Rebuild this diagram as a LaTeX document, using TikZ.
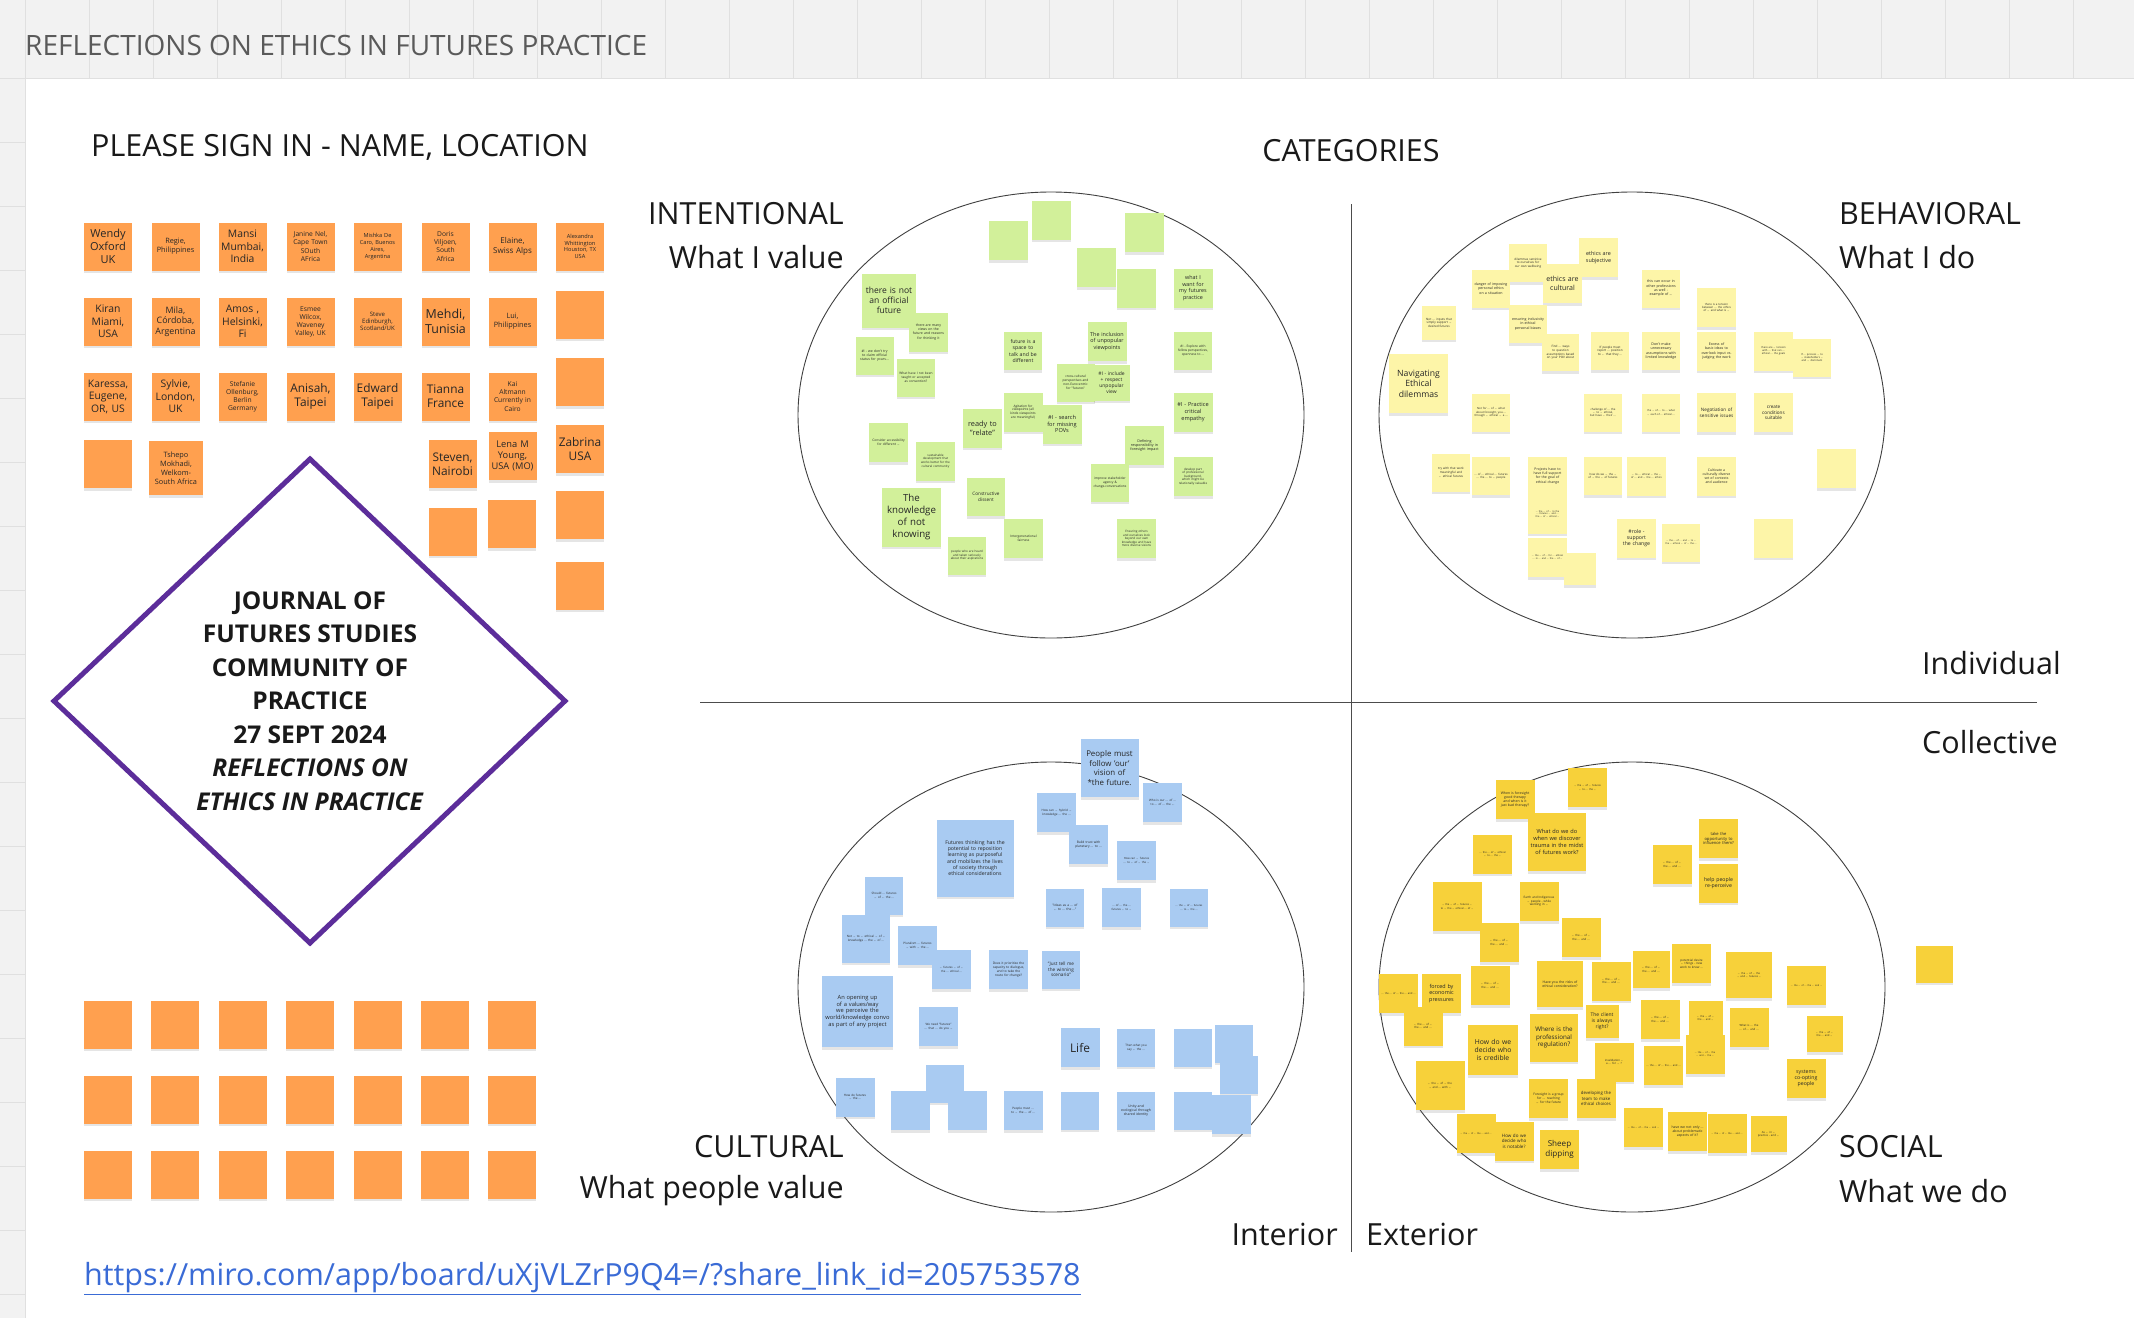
\documentclass[tikz,border=0pt]{standalone}
\usepackage{fontspec}
\setmainfont{Open Sans}
\usetikzlibrary{shadows}
\hyphenpenalty=10000\relax
\exhyphenpenalty=10000\relax
\definecolor{orng}{HTML}{FFA04F}
\definecolor{lgreen}{HTML}{D2F09A}
\definecolor{lyel}{HTML}{FDF5A8}
\definecolor{dyel}{HTML}{F7D13A}
\definecolor{lblue}{HTML}{A9CBF2}
\definecolor{purp}{HTML}{5C2D9A}
\definecolor{bargray}{HTML}{F2F2F2}
\definecolor{gridln}{HTML}{E0E0E0}
\definecolor{ttlgray}{HTML}{5A5A5A}
\definecolor{linkblue}{HTML}{3A6BD6}
\tikzset{
  snbox/.style={inner sep=1.5pt, align=center, text=black!85, drop shadow={shadow xshift=0pt, shadow yshift=-2.5pt, opacity=0.2}},
  lbl/.style={font=\fontsize{30.5}{36}\selectfont, text=black!90, inner sep=0pt},
  circ/.style={draw=black!75, line width=0.9pt},
}
% color, size, fontsize, name, x, y, text
\newcommand\sn[7]{\node[snbox, fill=#1, minimum width=#2pt, minimum height=#2pt, text width=\fpeval{#2-4}pt, font=\fontsize{\fpeval{#3*1.08}}{\fpeval{#3*1.3}}\selectfont] (#4) at (#5,#6) {#7};}
\begin{document}
\hyphenpenalty=10000\relax
\exhyphenpenalty=10000\relax
\begin{tikzpicture}[x=1pt,y=-1pt]
\useasboundingbox (0,0) rectangle (2134,1318);
\fill[white] (0,0) rectangle (2134,1318);
\fill[bargray] (0,0) rectangle (2134,78);
\fill[bargray] (0,78) rectangle (25,1318);
\foreach \k in {0,...,33} {\draw[gridln] ({25+64*\k},0) -- ({25+64*\k},78);}
\foreach \k in {0,...,19} {\draw[gridln] (0,{78+64*\k}) -- (25,{78+64*\k});}
\draw[gridln] (25,78) -- (2134,78);
\draw[gridln] (25,78) -- (25,1318);

\node[anchor=west, font=\fontsize{28}{32}\selectfont, text=ttlgray, inner sep=0pt] (title) at (25,45) {REFLECTIONS ON ETHICS IN FUTURES PRACTICE};
\node[lbl, anchor=west] (signin) at (91,147) {PLEASE SIGN IN - NAME, LOCATION};
\node[lbl] (cat) at (1351,151) {CATEGORIES};
\node[lbl, anchor=east] (intent) at (844,214) {INTENTIONAL};
\node[lbl, anchor=east] (intentv) at (844,257) {What I value};
\node[lbl, anchor=west] (behav) at (1839,214) {BEHAVIORAL};
\node[lbl, anchor=west] (behavv) at (1839,257) {What I do};
\node[lbl, anchor=east] (indiv) at (2061,663) {Individual};
\node[lbl, anchor=east] (coll) at (2058,742) {Collective};
\node[lbl, anchor=east] (cult) at (844,1147) {CULTURAL};
\node[lbl, anchor=east] (cultv) at (844,1191) {What people value};
\node[lbl, anchor=west] (soc) at (1839,1147) {SOCIAL};
\node[lbl, anchor=west] (socv) at (1839,1191) {What we do};
\node[lbl, anchor=east] (inter) at (1338,1234) {Interior};
\node[lbl, anchor=west] (exter) at (1366,1234) {Exterior};

\coordinate (vt) at (1351,204); \coordinate (vb) at (1351,1252);
\coordinate (hl) at (700,702); \coordinate (hr) at (2037,702);
\draw[black!70, line width=1pt] (vt) -- (vb);
\draw[black!70, line width=1pt] (hl) -- (hr);

\draw[circ] (1051,415) ellipse [x radius=253, y radius=223];
\draw[circ] (1632,415) ellipse [x radius=253, y radius=223];
\draw[circ] (1051,987) ellipse [x radius=253, y radius=225];
\draw[circ] (1632,987) ellipse [x radius=253, y radius=225];

% diamond
\draw[purp, line width=5pt, line join=miter] (310,459) -- (565,701) -- (310,943) -- (54,701) -- cycle;
\node[font=\bfseries\fontsize{24.5}{33.5}\selectfont, align=center, text=black!90] (jfs) at (310,701) {JOURNAL OF\\FUTURES STUDIES\\COMMUNITY OF\\PRACTICE\\27 SEPT 2024\\\textit{REFLECTIONS ON}\\\textit{ETHICS IN PRACTICE}};

\node[anchor=west, font=\fontsize{30.5}{34}\selectfont, text=linkblue, inner sep=0pt] (link) at (84,1279) {\underline{https://miro.com/app/board/uXjVLZrP9Q4=/?share\_link\_id=205753578}};

% orange sign-in notes
\sn{orng}{48}{10.2}{o1}{108}{246.5}{Wendy\\Oxford\\UK}
\sn{orng}{48}{6.8}{o2}{175.5}{246.5}{Regie,\\Philippines}
\sn{orng}{48}{9.6}{o3}{242.5}{246.5}{Mansi\\Mumbai,\\India}
\sn{orng}{48}{6.2}{o4}{310.5}{246.5}{Janine Nel,\\Cape Town\\SOuth\\AFrica}
\sn{orng}{48}{5.2}{o5}{377.5}{246.5}{Mishka De\\Caro, Buenos\\Aires,\\Argentina}
\sn{orng}{48}{6.2}{o6}{445.5}{246.5}{Doris\\Viljoen,\\South\\Africa}
\sn{orng}{48}{7.4}{o7}{512.5}{246.5}{Elaine,\\Swiss Alps}
\sn{orng}{48}{5.2}{o8}{580}{246.5}{Alexandra\\Whittington\\Houston, TX\\USA}
\sn{orng}{48}{9.6}{o9}{108}{321.5}{Kiran\\Miami,\\USA}
\sn{orng}{48}{8.2}{o10}{175.5}{321.5}{Mila,\\Córdoba,\\Argentina}
\sn{orng}{48}{9.6}{o11}{242.5}{321.5}{Amos ,\\Helsinki,\\Fi}
\sn{orng}{48}{6.2}{o12}{310.5}{321.5}{Esmee\\Wilcox,\\Waveney\\Valley, UK}
\sn{orng}{48}{5.6}{o13}{377.5}{321.5}{Steve\\Edinburgh,\\Scotland/UK}
\sn{orng}{48}{11.5}{o14}{445.5}{321.5}{Mehdi,\\Tunisia}
\sn{orng}{48}{6.8}{o15}{512.5}{321.5}{Lui,\\Philippines}
\sn{orng}{48}{5}{o16}{580}{314.5}{}
\sn{orng}{48}{9.6}{o17}{108}{396.5}{Karessa,\\Eugene,\\OR, US}
\sn{orng}{48}{9.6}{o18}{175.5}{396.5}{Sylvie,\\London,\\UK}
\sn{orng}{48}{6.2}{o19}{242.5}{396.5}{Stefanie\\Ollenburg,\\Berlin\\Germany}
\sn{orng}{48}{11}{o20}{310.5}{396.5}{Anisah,\\Taipei}
\sn{orng}{48}{11}{o21}{377.5}{396.5}{Edward\\Taipei}
\sn{orng}{48}{11}{o22}{445.5}{396.5}{Tianna\\France}
\sn{orng}{48}{6.2}{o23}{512.5}{396.5}{Kai\\Altmann\\Currently in\\Cairo}
\sn{orng}{48}{5}{o24}{580}{382}{}
\sn{orng}{48}{5}{o25}{108}{464}{}
\sn{orng}{54}{6.8}{o26}{176}{468}{Tshepo\\Mokhadi,\\Welkom-\\South Africa}
\sn{orng}{48}{11}{o27}{452.5}{464}{Steven,\\Nairobi}
\sn{orng}{48}{8.6}{o28}{512.5}{456}{Lena M\\Young,\\USA (MO)}
\sn{orng}{48}{11}{o29}{580}{449}{Zabrina\\USA}
\sn{orng}{48}{5}{o30}{452.5}{531.5}{}
\sn{orng}{48}{5}{o31}{511.5}{524}{}
\sn{orng}{48}{5}{o32}{580}{515}{}
\sn{orng}{48}{5}{o33}{580}{585.5}{}
\foreach \c [count=\i] in {108,175,243,310,378,445,512} {
  \foreach \r [count=\j] in {1024.5,1099.5,1174.5} {
    \node[snbox, fill=orng, minimum width=48pt, minimum height=48pt] (ob\i\j) at (\c,\r) {};
  }
}

% INTENTIONAL (green)
\sn{lgreen}{39}{4}{g1}{1008.5}{240.5}{}
\sn{lgreen}{39}{4}{g2}{1051.5}{220}{}
\sn{lgreen}{39}{4}{g3}{1096}{267.5}{}
\sn{lgreen}{39}{4}{g4}{1144.5}{232.5}{}
\sn{lgreen}{39}{4}{g5}{1136.5}{288}{}
\sn{lgreen}{39}{5}{g6}{1193}{288}{what I want for my futures practice}
\sn{lgreen}{54}{7.9}{g7}{889}{300.5}{there is not an official future}
\sn{lgreen}{39}{3.2}{g8}{928.5}{332}{there are many views on the future and reasons for thinking it}
\sn{lgreen}{38}{3.2}{g9}{874.5}{355.5}{\#I - we don't try to claim official status for yours...}
\sn{lgreen}{38}{3}{g10}{916}{377.5}{What have I not been taught or accepted as convention?}
\sn{lgreen}{38}{4.8}{g11}{1023}{351}{future is a space to talk and be different}
\sn{lgreen}{39}{5}{g12}{1107}{341.5}{The inclusion of unpopular viewpoints}
\sn{lgreen}{38}{3}{g13}{1193}{351}{\#I - Explore with fellow perspectives, openness to ...}
\sn{lgreen}{38}{3}{g14}{1075.5}{382.5}{cross-cultural perspectives and non-Eurocentric for "futures"}
\sn{lgreen}{36}{4.6}{g15}{1111.5}{382.5}{\#I - include + respect unpopular view}
\sn{lgreen}{39}{3}{g16}{1023}{412}{Agitation for viewpoints (all kinds viewpoints are meaningful)}
\sn{lgreen}{39}{5.2}{g17}{1193}{412}{\#I - Practice critical empathy}
\sn{lgreen}{39}{6.8}{g18}{982.5}{428}{ready to "relate"}
\sn{lgreen}{39}{5.2}{g19}{1062}{424}{\#I - search for missing POVs}
\sn{lgreen}{39}{3}{g20}{888.5}{442.5}{Consider accessibility for different ...}
\sn{lgreen}{39}{3.4}{g21}{1144.5}{445.5}{Defining responsibility in foresight impact}
\sn{lgreen}{39}{2.8}{g22}{935.5}{461}{sustainable development that works better for the cultural community}
\sn{lgreen}{39}{2.8}{g23}{1193}{476.5}{develop part of professional background, which might be relationally valuable}
\sn{lgreen}{38}{3}{g24}{1110}{482.5}{improve stakeholder agency \& change-conversations}
\sn{lgreen}{59}{9}{g25}{911.5}{517}{The knowledge of not knowing}
\sn{lgreen}{38}{4.3}{g26}{986}{497}{Constructive dissent}
\sn{lgreen}{39}{3}{g27}{1023.5}{538.5}{Intergenerational fairness}
\sn{lgreen}{38}{2.8}{g28}{967}{555.5}{people who are heard and taken seriously about their aspirations}
\sn{lgreen}{39}{2.8}{g29}{1136.5}{538.5}{Ensuring others and ourselves look beyond our own knowledge and have more diverse visions}

% BEHAVIORAL (light yellow)
\sn{lyel}{38}{2.8}{y1}{1528}{263}{dilemmas sensitive to ourselves for our own wellbeing}
\sn{lyel}{39}{5}{y2}{1598.5}{257.5}{ethics are subjective}
\sn{lyel}{38}{3.3}{y3}{1491}{288.5}{danger of imposing personal ethics on a situation}
\sn{lyel}{39}{6.5}{y4}{1562.5}{283.5}{ethics are cultural}
\sn{lyel}{38}{3.3}{y5}{1661}{288.5}{this can occur in other professions as well - example of ...}
\sn{lyel}{39}{2.6}{y6}{1716.5}{307.5}{there is a tension between ... the ethics of ... and what is ...}
\sn{lyel}{34}{2.8}{y7}{1439}{322.5}{Not ... inputs that simply support ... desired futures}
\sn{lyel}{38}{3.3}{y8}{1528}{324}{ensuring inclusivity in ethical personal biases}
\sn{lyel}{37}{2.8}{y9}{1560.5}{352.5}{Find ... ways to question assumptions based on your POV about}
\sn{lyel}{38}{2.8}{y10}{1610}{351}{If people must report ... position to ... that they ...}
\sn{lyel}{38}{3.3}{y11}{1661}{351}{Don't make unnecessary assumptions with limited knowledge}
\sn{lyel}{39}{3.3}{y12}{1716.5}{351}{Excess of basic ideas to overlook input vs. judging the work}
\sn{lyel}{39}{2.4}{y13}{1773.5}{351}{there are ... tension with ... that can ... ethical ... the goals}
\sn{lyel}{38}{2.4}{y14}{1812}{357.5}{If ... process ... to ... stakeholders ... and ... dominant}
\sn{lyel}{59}{8}{y15}{1418.5}{383.5}{Navigating Ethical dilemmas}
\sn{lyel}{38}{2.6}{y16}{1491}{412.5}{Not for ... of ... what about foresight, you ... through ... ethical ... a ...}
\sn{lyel}{38}{2.6}{y17}{1603}{412.5}{challenge of ... the ... to ... ethical, but have ... their ...}
\sn{lyel}{38}{2.4}{y18}{1661}{412.5}{the ... of ... to ... what ... each of ... ethical ...}
\sn{lyel}{39}{4.3}{y19}{1716.5}{412.5}{Negotiation of sensitive issues}
\sn{lyel}{39}{4.3}{y20}{1773.5}{412.5}{create conditions suitable}
\sn{lyel}{38}{2.8}{y21}{1451}{472.5}{try with that work meaningful and ... ethical futures}
\sn{lyel}{38}{2.6}{y22}{1491}{476}{... of ... ethical ... futures ... the ... to ... people}
\sn{lyel}{39}{3.2}{y23}{1547.5}{476}{Projects have to have full support for the goal of ethical change}
\sn{lyel}{39}{2.2}{y24}{1547.5}{514}{... the ... of ... to the ... futures ... and ... the ... of ... ethical ...}
\sn{lyel}{39}{2.2}{y26}{1547.5}{557.5}{... the ... of ... for ... ethical ... in ... and ... the ... of ...}
\sn{lyel}{32}{3}{y25}{1580}{569}{}
\sn{lyel}{38}{2.6}{y27}{1603}{476}{how do we ... the ... of ... the ... of futures}
\sn{lyel}{39}{2.4}{y28}{1646.5}{476}{... to ... ethical ... the ... of ... and ... the ... ethics}
\sn{lyel}{39}{3.2}{y29}{1716.5}{476}{Cultivate a culturally diverse set of contexts and audience}
\sn{lyel}{39}{4}{y30}{1836.5}{468.5}{}
\sn{lyel}{39}{4.8}{y31}{1636.5}{538}{\#role - support the change}
\sn{lyel}{38}{2.2}{y32}{1681}{542.5}{... the ... of ... and ... to ... the ... ethical ... of ... the ...}
\sn{lyel}{39}{4}{y33}{1773.5}{538}{}

% CULTURAL (blue)
\sn{lblue}{77}{4.8}{b1}{975}{858}{Futures thinking has the potential to reposition learning as purposeful and mobilizes the lives of society through ethical considerations}
\sn{lblue}{58}{7.3}{b2}{1109.5}{768}{People must follow 'our' vision of *the future.}
\sn{lblue}{39}{2.8}{b3}{1162.5}{802.5}{Who is our ... of ... to ... of ... the ...}
\sn{lblue}{39}{2.8}{b4}{1056.5}{812.5}{How can ... hybrid ... knowledge ... the ...}
\sn{lblue}{39}{3}{b5}{1088.5}{844.5}{Build trust with planetary ... to ...}
\sn{lblue}{39}{2.6}{b6}{1136.5}{860.5}{How can ... futures ... to ... of ... the ...}
\sn{lblue}{38}{2.8}{b7}{884}{895.5}{Should ... futures ... of ... the ...}
\sn{lblue}{48}{2.8}{b8}{866}{938.5}{Not ... to ... ethical ... of ... knowledge ... the ... of ...}
\sn{lblue}{39}{2.8}{b9}{917.5}{945.5}{Pluralism ... futures ... with ... the ...}
\sn{lblue}{39}{2.6}{b10}{951.5}{969.5}{... futures ... of ... the ... ethical ...}
\sn{lblue}{39}{3}{b11}{1008.5}{969.5}{Does it prioritize the capacity to dialogue, and to take the route for change?}
\sn{lblue}{38}{3}{b12}{1065}{907.5}{"Ideas as a ... of ... to ... the ..."}
\sn{lblue}{39}{2.6}{b13}{1121.5}{907.5}{... of ... the ... futures ... to ...}
\sn{lblue}{38}{2.4}{b14}{1189}{907.5}{... the ... of ... futures ... to ... the ...}
\sn{lblue}{38}{4.3}{b15}{1061}{969.5}{"Just tell me the winning scenario"}
\sn{lblue}{71}{5.3}{b16}{857.5}{1011.5}{An opening up of a values/way we perceive the world/knowledge convo as part of any project}
\sn{lblue}{39}{2.8}{b17}{938.5}{1026.5}{We need "futures" ... that ... do you ...}
\sn{lblue}{39}{11}{b18}{1080}{1047.5}{Life}
\sn{lblue}{38}{2.8}{b19}{1136}{1047.5}{Then what you say ... the ...}
\sn{lblue}{38}{4}{b20}{1193}{1047.5}{}
\sn{lblue}{38}{4}{b21}{1234}{1043.5}{}
\sn{lblue}{38}{4}{b22}{1239}{1074.5}{}
\sn{lblue}{39}{2.8}{b23}{855}{1097}{How do futures ... the ...}
\sn{lblue}{38}{4}{b24}{945}{1083.5}{}
\sn{lblue}{39}{4}{b25}{910.5}{1110.5}{}
\sn{lblue}{39}{4}{b26}{967.5}{1110.5}{}
\sn{lblue}{39}{2.8}{b27}{1023}{1110.5}{People must ... to ... the ... of ...}
\sn{lblue}{38}{4}{b28}{1080}{1110.5}{}
\sn{lblue}{38}{3.2}{b29}{1136}{1110.5}{Unity and ecological through shared identity}
\sn{lblue}{38}{4}{b30}{1193}{1110.5}{}
\sn{lblue}{39}{4}{b31}{1231.5}{1114.5}{}

% SOCIAL (dark yellow)
\sn{dyel}{39}{3.2}{s1}{1515}{799.5}{When is foresight good therapy and when is it just bad therapy?}
\sn{dyel}{39}{2.4}{s2}{1587.5}{787.5}{... the ... of ... futures ... to ... the ...}
\sn{dyel}{58}{5.2}{s3}{1557}{842}{What do we do when we discover trauma in the midst of futures work?}
\sn{dyel}{39}{2.4}{s4}{1492.5}{854}{... the ... of ... ethical ... to ... the ...}
\sn{dyel}{39}{3.8}{s5}{1718.5}{838.5}{take the opportunity to influence them?}
\sn{dyel}{39}{2.6}{s6}{1672}{864.5}{... the ... of ... the ... and ...}
\sn{dyel}{39}{4.8}{s7}{1718.5}{883}{help people re-perceive}
\sn{dyel}{49}{2.4}{s8}{1457}{906.5}{... the ... of ... futures ... to ... the ... ethical ... of ...}
\sn{dyel}{39}{2.8}{s9}{1539}{901.5}{Earth and Indigenous ... people - while working in ...}
\sn{dyel}{39}{2.6}{s10}{1499}{942.5}{... the ... of ... the ... and ...}
\sn{dyel}{39}{2.6}{s11}{1581}{937.5}{... the ... of ... the ... and ...}
\sn{dyel}{39}{2.4}{s12}{1398.5}{993.5}{... the ... of ... the ... and ...}
\sn{dyel}{39}{5}{s13}{1441.5}{993.5}{forced by economic pressures}
\sn{dyel}{39}{2.6}{s14}{1490}{985.5}{... the ... of ... the ... and ...}
\sn{dyel}{46}{3.2}{s15}{1560}{984}{Have you the risks of ethical consideration?}
\sn{dyel}{39}{2.6}{s16}{1611}{981}{... the ... of ... the ... and ...}
\sn{dyel}{37}{2.6}{s17}{1651}{969.5}{... the ... of ... the ... and ...}
\sn{dyel}{39}{2.8}{s18}{1691.5}{963.5}{potential desire ... things - new work to know ...}
\sn{dyel}{46}{2.4}{s19}{1749}{975}{... the ... of ... the ... and ... futures ...}
\sn{dyel}{39}{2.2}{s20}{1806.5}{985.5}{... the ... of ... the ... and ...}
\sn{dyel}{39}{2.6}{s21}{1423}{1026}{... the ... of ... the ... and ...}
\sn{dyel}{50}{6.3}{s22}{1493}{1050}{How do we decide who is credible}
\sn{dyel}{48}{5.8}{s23}{1554}{1037.5}{Where is the professional regulation?}
\sn{dyel}{33}{4.6}{s24}{1602}{1021.5}{The client is always right?}
\sn{dyel}{39}{2.6}{s25}{1660}{1019.5}{... the ... of ... the ... and ...}
\sn{dyel}{34}{2.4}{s26}{1705.5}{1018}{... the ... of ... the ... and ...}
\sn{dyel}{39}{2.6}{s27}{1749}{1027.5}{What is ... the ... of ... and ...}
\sn{dyel}{36}{2.4}{s28}{1824.5}{1034}{... the ... of ... the ... and ...}
\sn{dyel}{39}{2.6}{s29}{1614}{1062}{invalidation ... a ... for ... ?}
\sn{dyel}{39}{2.4}{s30}{1663.5}{1065.5}{... the ... of ... the ... and ...}
\sn{dyel}{39}{2.2}{s31}{1705}{1054.5}{... the ... of ... the ... and ... the ...}
\sn{dyel}{39}{4.8}{s32}{1806}{1078.5}{systems co-opting people}
\sn{dyel}{49}{2.6}{s33}{1440}{1085.5}{... the ... of ... the ... and ... with ...}
\sn{dyel}{39}{3}{s34}{1548.5}{1098.5}{Foresight is a group for ... reaching ... for the future}
\sn{dyel}{39}{4}{s35}{1596}{1098.5}{developing the team to make ethical choices}
\sn{dyel}{39}{2.2}{s36}{1476}{1133.5}{... the ... of ... the ... and ...}
\sn{dyel}{39}{4.2}{s37}{1514}{1141}{How do we decide who is notable?}
\sn{dyel}{39}{7.5}{s38}{1559.5}{1149.5}{Sheep dipping}
\sn{dyel}{39}{2.2}{s39}{1643.5}{1127.5}{... the ... of ... the ... and ...}
\sn{dyel}{39}{3.2}{s40}{1687.5}{1131.5}{have we not only ... about problematic aspects of it?}
\sn{dyel}{39}{2.2}{s41}{1727}{1133.5}{... the ... of ... the ... and ...}
\sn{dyel}{36}{2.6}{s42}{1768.5}{1134}{As ... in ... practice - and ...}
\sn{dyel}{37}{4}{s48}{1934}{964}{}
\end{tikzpicture}
\end{document}
